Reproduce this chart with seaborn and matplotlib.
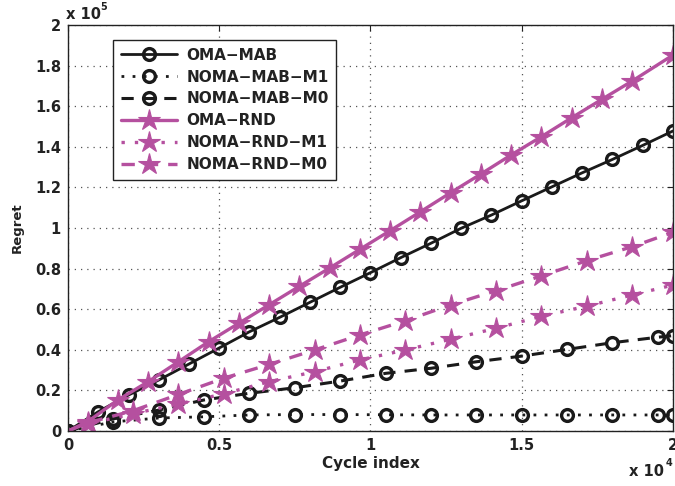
import matplotlib
matplotlib.use("Agg")
import matplotlib.pyplot as plt
import seaborn as sns
import pandas as pd

# Cycle indices at which each curve is sampled
cycles_oma_mab = [0, 1000, 2000, 3000, 4000, 5000, 6000, 7000, 8000, 9000, 10000,
                  11000, 12000, 13000, 14000, 15000, 16000, 17000, 18000, 19000, 20000]
cycles_noma_mab = [0, 1500, 3000, 4500, 6000, 7500, 9000, 10500, 12000, 13500,
                   15000, 16500, 18000, 19500, 20000]
cycles_oma_rnd = [0, 650, 1650, 2650, 3650, 4650, 5650, 6650, 7650, 8650, 9650,
                  10650, 11650, 12650, 13650, 14650, 15650, 16650, 17650, 18650, 20000]
cycles_noma_rnd = [0, 650, 2150, 3650, 5150, 6650, 8150, 9650, 11150, 12650,
                   14150, 15650, 17150, 18650, 20000]

# Cumulative regret (x 1e5)
oma_mab = [0, 0.095, 0.177, 0.251, 0.330, 0.409, 0.489, 0.560, 0.634, 0.708, 0.780,
           0.854, 0.925, 0.999, 1.064, 1.134, 1.203, 1.272, 1.338, 1.407, 1.478]
noma_mab_m1 = [0, 0.045, 0.064, 0.070, 0.079, 0.081, 0.081, 0.080, 0.079, 0.079,
               0.079, 0.079, 0.079, 0.079, 0.079]
noma_mab_m0 = [0, 0.060, 0.103, 0.153, 0.186, 0.213, 0.246, 0.284, 0.309, 0.341,
               0.369, 0.402, 0.435, 0.462, 0.470]
oma_rnd = [0, 0.046, 0.153, 0.243, 0.341, 0.440, 0.531, 0.622, 0.713, 0.803, 0.895,
           0.987, 1.080, 1.174, 1.266, 1.360, 1.450, 1.543, 1.634, 1.724, 1.852]
noma_rnd_m1 = [0, 0.035, 0.085, 0.133, 0.183, 0.243, 0.292, 0.350, 0.399, 0.452,
               0.506, 0.565, 0.615, 0.670, 0.719]
noma_rnd_m0 = [0, 0.040, 0.100, 0.180, 0.260, 0.328, 0.399, 0.473, 0.543, 0.621,
               0.691, 0.764, 0.839, 0.908, 0.979]

y_ticks = [0, 0.2, 0.4, 0.6, 0.8, 1.0, 1.2, 1.4, 1.6, 1.8, 2.0]
y_tick_labels = ["0", "0.2", "0.4", "0.6", "0.8", "1", "1.2", "1.4", "1.6", "1.8", "2"]
x_ticks = [0, 0.5, 1.0, 1.5, 2.0]
x_tick_labels = ["0", "0.5", "1", "1.5", "2"]

sns.set_style("white")
plt.rcParams["font.family"] = ["DejaVu Sans"]
plt.rcParams["font.weight"] = "bold"

MAG = "#b5509f"
BLK = "#1a1a1a"
TXT = "#222222"

fig = plt.figure(figsize=(6.75, 4.86), dpi=100)
ax = fig.add_axes([68 / 675, 1 - 431 / 486, 605 / 675, 406 / 486])

series = [
    ("OMA\u2212MAB", cycles_oma_mab, oma_mab, BLK, "-", "o", 2.0, None),
    ("NOMA\u2212MAB\u2212M1", cycles_noma_mab, noma_mab_m1, BLK, (0, (1, 3)), "o", 2.0, None),
    ("NOMA\u2212MAB\u2212M0", cycles_noma_mab, noma_mab_m0, BLK, (0, (4, 3)), "o", 2.2, None),
    ("OMA\u2212RND", cycles_oma_rnd, oma_rnd, MAG, "-", "*", 2.4, slice(1, None)),
    ("NOMA\u2212RND\u2212M1", cycles_noma_rnd, noma_rnd_m1, MAG, (0, (1, 3)), "*", 2.4, slice(1, None)),
    ("NOMA\u2212RND\u2212M0", cycles_noma_rnd, noma_rnd_m0, MAG, (0, (4, 3)), "*", 2.4, slice(1, None)),
]

for name, xs, ys, color, ls, mk, lw, mev in series:
    df = pd.DataFrame({"x": [v / 1e4 for v in xs], "y": ys})
    if mk == "o":
        mkw = dict(marker="o", markersize=8.5, markerfacecolor="none",
                   markeredgecolor=color, markeredgewidth=2.4)
    else:
        mkw = dict(marker="*", markersize=16, markerfacecolor=color,
                   markeredgecolor=color, markeredgewidth=0.8)
    sns.lineplot(data=df, x="x", y="y", ax=ax, color=color, linestyle=ls,
                 linewidth=lw, label=name, sort=False, markevery=mev, **mkw)

ax.set_xlim(0, 2)
ax.set_ylim(0, 2)
ax.set_xticks(x_ticks, x_tick_labels)
ax.set_yticks(y_ticks, y_tick_labels)
ax.tick_params(direction="in", length=4, width=0.8, top=True, right=True,
               labelsize=10.5, pad=5, colors=TXT)
for lab in ax.get_xticklabels() + ax.get_yticklabels():
    lab.set_fontweight("bold")
    lab.set_color(TXT)
ax.grid(True, linestyle=(0, (1, 4)), color="#555555", linewidth=0.9)
for sp in ax.spines.values():
    sp.set_linewidth(1.0)
    sp.set_color(TXT)

ax.set_xlabel("Cycle index", fontsize=11, fontweight="bold", labelpad=2, color=TXT)
ax.set_ylabel("Regret", fontsize=9.5, fontweight="bold", labelpad=8, color=TXT)

# Axis multipliers
fig.text(66 / 675, 1 - 19 / 486, "x 10", fontsize=10.5, fontweight="bold", color=TXT)
fig.text(100 / 675, 1 - 10 / 486, "5", fontsize=7, color=TXT)
fig.text(629 / 675, 1 - 476 / 486, "x 10", fontsize=10.5, fontweight="bold", color=TXT)
fig.text(666 / 675, 1 - 466 / 486, "4", fontsize=7, color=TXT)

leg = ax.legend(loc="upper left", bbox_to_anchor=(45 / 605, 1 - 15 / 406),
                frameon=True, fancybox=False, framealpha=1, edgecolor=TXT,
                fontsize=11, handlelength=3.7, handletextpad=0.6,
                borderpad=0.5, labelspacing=0.45, borderaxespad=0)
leg.get_frame().set_linewidth(1.0)
for t in leg.get_texts():
    t.set_fontweight("bold")
    t.set_color(TXT)

fig.savefig("out.png", dpi=100)
